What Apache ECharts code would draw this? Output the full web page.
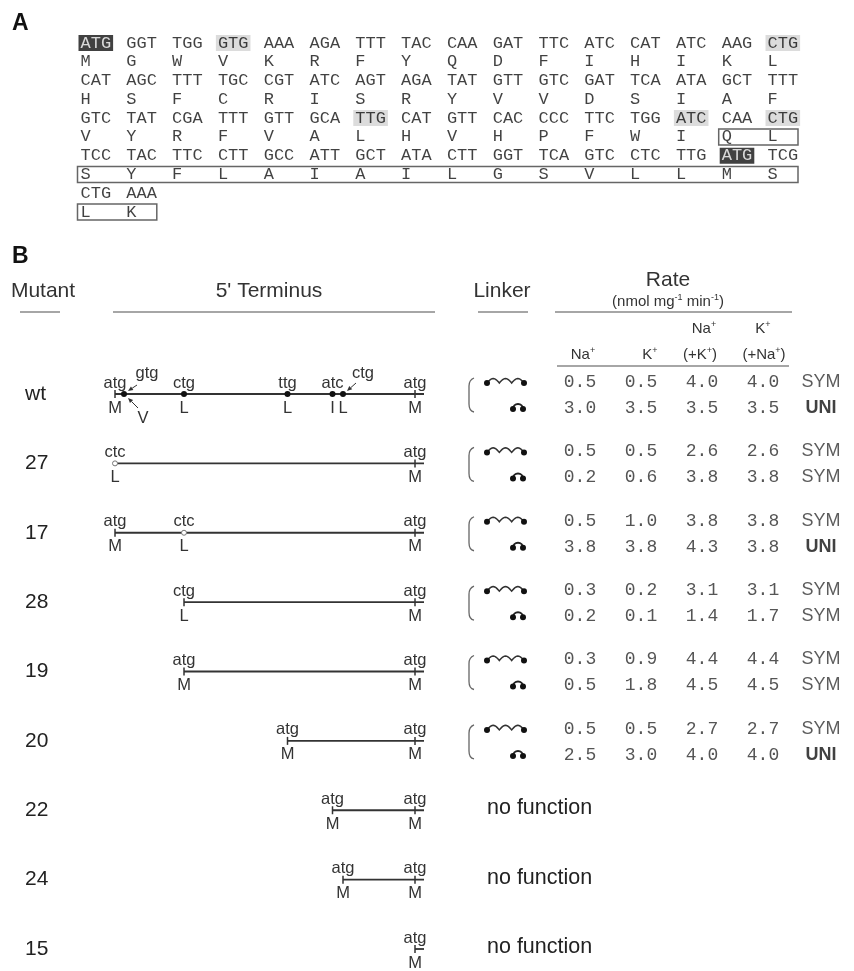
<!DOCTYPE html>
<html><head><meta charset="utf-8">
<script src="https://cdn.jsdelivr.net/npm/echarts@6.0.0/dist/echarts.min.js"></script>
<style>html,body{margin:0;padding:0;background:#fff}#c{width:854px;height:971px}</style>
</head><body><div id="c"></div>
<script>
// ================= Panel A data =================
const codonRows = [
  'ATG GGT TGG GTG AAA AGA TTT TAC CAA GAT TTC ATC CAT ATC AAG CTG',
  'CAT AGC TTT TGC CGT ATC AGT AGA TAT GTT GTC GAT TCA ATA GCT TTT',
  'GTC TAT CGA TTT GTT GCA TTG CAT GTT CAC CCC TTC TGG ATC CAA CTG',
  'TCC TAC TTC CTT GCC ATT GCT ATA CTT GGT TCA GTC CTC TTG ATG TCG',
  'CTG AAA'
];
const aaRows = ['MGWVKRFYQDFIHIKL', 'HSFCRISRYVVDSIAF', 'VYRFVALHVHPFWIQL', 'SYFLAIAILGSVLLMS', 'LK'];
const blackCodons = [[0, 0], [3, 14]];                 // [seqRow, col]
const grayCodons = [[0, 3], [0, 15], [2, 6], [2, 13], [2, 15]];
const boxedAA = [[2, 14, 15], [3, 0, 15], [4, 0, 1]];   // [seqRow, fromCol, toCol]

// ================= Panel B data =================
const mutants = ['wt', '27', '17', '28', '19', '20', '22', '24', '15'];
const lineEnd = 103;
const siteRow   = ['wt','wt','wt','wt','wt','wt','wt','27','27','17','17','17','28','28','19','19','20','20','22','22','24','24','15'];
const sitePos   = [0, 3, 23, 57.5, 72.5, 76, 100, 0, 100, 0, 23, 100, 23, 100, 23, 100, 57.5, 100, 72.5, 100, 76, 100, 100];
const siteCodon = ['atg','gtg','ctg','ttg','atc','ctg','atg','ctc','atg','atg','ctc','atg','ctg','atg','atg','atg','atg','atg','atg','atg','atg','atg','atg'];
const siteAA    = ['M','V','L','L','I','L','M','L','M','M','L','M','L','M','M','M','M','M','M','M','M','M','M'];
const siteMark  = ['tick','dot','dot','dot','dot','dot','tick','open','tick','tick','open','tick','tick','tick','tick','tick','tick','tick','tick','tick','tick','tick','tick'];

const rateMutants = ['wt', '27', '17', '28', '19', '20'];
// two rows per mutant: [long linker, short linker]
const rateNa   = [0.5, 3.0, 0.5, 0.2, 0.5, 3.8, 0.3, 0.2, 0.3, 0.5, 0.5, 2.5];
const rateK    = [0.5, 3.5, 0.5, 0.6, 1.0, 3.8, 0.2, 0.1, 0.9, 1.8, 0.5, 3.0];
const rateNaK  = [4.0, 3.5, 2.6, 3.8, 3.8, 4.3, 3.1, 1.4, 4.4, 4.5, 2.7, 4.0];
const rateKNa  = [4.0, 3.5, 2.6, 3.8, 3.8, 3.8, 3.1, 1.7, 4.4, 4.5, 2.7, 4.0];
const rateMode = ['SYM','UNI','SYM','SYM','SYM','UNI','SYM','SYM','SYM','SYM','SYM','UNI'];
const noFunction = ['22', '24', '15'];

// ================= build =================
const MONO = '"Liberation Mono", "Courier New", monospace';
const SANS = '"Liberation Sans", Arial, Helvetica, sans-serif';
const has = (arr, r, c) => arr.some(a => a[0] === r && a[1] === c);

const codonData = [];
codonRows.forEach((row, r) => row.split(' ').forEach((cd, c) => {
  const item = { name: cd, value: [c, 2 * r] };
  if (has(blackCodons, r, c)) item.label = { backgroundColor: '#111', color: '#fff' };
  else if (has(grayCodons, r, c)) item.label = { backgroundColor: '#d3d3d3' };
  codonData.push(item);
}));
const aaData = [];
aaRows.forEach((row, r) => row.split('').forEach((a, c) => aaData.push({ name: a, value: [c, 2 * r + 1] })));

const rateCols = [rateNa, rateK, rateNaK, rateKNa];
const rateData = [];
const modeData = [];
rateMutants.forEach((m, mi) => {
  const yi = mutants.indexOf(m);
  [0, 1].forEach(j => {
    const k = mi * 2 + j;
    const off = j === 0 ? -12 : 14;
    rateCols.forEach((col, ci) => rateData.push({ name: col[k].toFixed(1), value: [ci, yi], label: { offset: [0, off] } }));
    modeData.push({ name: rateMode[k], value: [4, yi], label: { offset: [-3, off], fontWeight: rateMode[k] === 'UNI' ? 'bold' : 'normal', color: rateMode[k] === 'UNI' ? '#111' : '#333' } });
  });
});

const lineData = mutants.map((m, i) => {
  const starts = sitePos.filter((p, s) => siteRow[s] === m);
  return [Math.min.apply(null, starts), lineEnd, i];
});
const siteData = sitePos.map((p, i) => [p, mutants.indexOf(siteRow[i]), i]);

// callout offsets (style) for crowded wt sites: [labelDx, labelDy, arrowFrom, arrowTo]
const codonCallout = { 1: [23, -21, [13, -9], [4, -3]], 5: [20, -21, [13, -11], [4, -3]] };
const aaCallout = { 1: [19, 24, [14, 14], [4, 4]] };

function txt(x, y, text, font, align, fill) {
  return { type: 'text', x: x, y: y, style: { text: text, font: font, fill: fill || '#333', align: align || 'center', verticalAlign: 'middle', textAlign: align || 'center', textVerticalAlign: 'middle' } };
}
function arrow(x1, y1, x2, y2) {
  const dx = x2 - x1, dy = y2 - y1, L = Math.hypot(dx, dy), ux = dx / L, uy = dy / L;
  const bx = x2 - ux * 5, by = y2 - uy * 5;
  return [
    { type: 'line', shape: { x1: x1, y1: y1, x2: bx, y2: by }, style: { stroke: '#333', lineWidth: 1 } },
    { type: 'polygon', shape: { points: [[x2, y2], [bx - uy * 2.2, by + ux * 2.2], [bx + uy * 2.2, by - ux * 2.2]] }, style: { fill: '#333' } }
  ];
}
function supText(x, y, text) {
  return { type: 'text', x: x, y: y, style: { text: text, font: '15px ' + SANS, fill: '#333', align: 'center', verticalAlign: 'middle', textAlign: 'center', textVerticalAlign: 'middle',
    rich: { s: { fontSize: 9, fontFamily: SANS, fill: '#333', padding: [0, 0, 9, 0] } } } };
}
function rule(x1, x2, y) {
  return { type: 'line', shape: { x1: x1, y1: y, x2: x2, y2: y }, style: { stroke: '#888', lineWidth: 1.5 } };
}

const LABEL_FONT = '16.5px ' + SANS;

const option = {
  animation: false,
  backgroundColor: '#fff',
  grid: [
    { left: 78, top: 43, width: 687, height: 169 },
    { left: 115, top: 394, width: 300, height: 555 },
    { left: 580, top: 394, width: 244, height: 555 }
  ],
  xAxis: [
    { gridIndex: 0, type: 'value', min: 0, max: 15, show: false },
    { gridIndex: 1, type: 'value', min: 0, max: 100, show: false },
    { gridIndex: 2, type: 'value', min: 0, max: 4, show: false }
  ],
  yAxis: [
    { gridIndex: 0, type: 'value', min: 0, max: 9, inverse: true, show: false },
    { gridIndex: 1, type: 'category', data: mutants, boundaryGap: false, inverse: true,
      axisLine: { show: false }, axisTick: { show: false }, splitLine: { show: false },
      axisLabel: { align: 'left', margin: 90, fontSize: 21, color: '#222', fontFamily: SANS } },
    { gridIndex: 2, type: 'category', data: mutants, boundaryGap: false, inverse: true, show: false }
  ],
  graphic: [
    txt(12, 24, 'A', 'bold 23px ' + SANS, 'left', '#111'),
    txt(12, 257, 'B', 'bold 23px ' + SANS, 'left', '#111'),
    txt(43, 291, 'Mutant', '21px ' + SANS),
    txt(269, 291, "5' Terminus", '21px ' + SANS),
    txt(502, 291, 'Linker', '21px ' + SANS),
    txt(668, 280, 'Rate', '21px ' + SANS),
    supText(668, 302, '(nmol mg{s|-1} min{s|-1})'),
    supText(583, 355, 'Na{s|+}'),
    supText(650, 355, 'K{s|+}'),
    supText(704, 329, 'Na{s|+}'),
    supText(700, 355, '(+K{s|+})'),
    supText(763, 329, 'K{s|+}'),
    supText(764, 355, '(+Na{s|+})'),
    rule(20, 60, 312),
    rule(113, 435, 312),
    rule(478, 528, 312),
    rule(555, 792, 312),
    rule(557, 789, 366)
  ],
  series: [
    // ---- Panel A: codons ----
    { type: 'scatter', xAxisIndex: 0, yAxisIndex: 0, silent: true, symbolSize: 1,
      itemStyle: { color: 'rgba(0,0,0,0)' },
      label: { show: true, position: 'right', distance: 0, formatter: '{b}', fontFamily: MONO, fontSize: 17, color: '#111', padding: [1, 2, 0, 2], lineHeight: 15 },
      data: codonData },
    // ---- Panel A: amino acids ----
    { type: 'scatter', xAxisIndex: 0, yAxisIndex: 0, silent: true, symbolSize: 1,
      itemStyle: { color: 'rgba(0,0,0,0)' },
      label: { show: true, position: 'right', distance: 0, formatter: '{b}', fontFamily: MONO, fontSize: 17, color: '#111', padding: [1, 2, 0, 2], lineHeight: 15 },
      data: aaData },
    // ---- Panel A: boxes ----
    { type: 'custom', xAxisIndex: 0, yAxisIndex: 0, silent: true,
      data: boxedAA.map(b => [b[1], b[2], 2 * b[0] + 1]),
      encode: { x: [0, 1], y: 2 },
      renderItem: function (params, api) {
        const a = api.coord([api.value(0), api.value(2)]);
        const b = api.coord([api.value(1), api.value(2)]);
        return { type: 'rect', shape: { x: a[0] - 0.5, y: a[1] - 8, width: b[0] + 33 - (a[0] - 0.5), height: 16 },
          style: { fill: 'none', stroke: '#666', lineWidth: 1.5 } };
      } },
    // ---- Panel B: fragment lines ----
    { type: 'custom', xAxisIndex: 1, yAxisIndex: 1, silent: true,
      data: lineData, encode: { x: [0, 1], y: 2 },
      renderItem: function (params, api) {
        const a = api.coord([api.value(0), api.value(2)]);
        const b = api.coord([api.value(1), api.value(2)]);
        return { type: 'line', shape: { x1: a[0], y1: a[1], x2: b[0], y2: b[1] }, style: { stroke: '#333', lineWidth: 1.8 } };
      } },
    // ---- Panel B: codon sites ----
    { type: 'custom', xAxisIndex: 1, yAxisIndex: 1, silent: true,
      data: siteData, encode: { x: 0, y: 1 },
      renderItem: function (params, api) {
        const i = api.value(2);
        const p = api.coord([api.value(0), api.value(1)]);
        const ch = [];
        const mk = siteMark[i];
        if (mk === 'tick') ch.push({ type: 'line', shape: { x1: p[0], y1: p[1] - 4, x2: p[0], y2: p[1] + 4 }, style: { stroke: '#333', lineWidth: 1.5 } });
        else if (mk === 'dot') ch.push({ type: 'circle', shape: { cx: p[0], cy: p[1], r: 3 }, style: { fill: '#111' } });
        else ch.push({ type: 'circle', shape: { cx: p[0], cy: p[1], r: 2.5 }, style: { fill: '#fff', stroke: '#777', lineWidth: 1 } });
        const cc = codonCallout[i];
        if (cc) {
          ch.push(txt(p[0] + cc[0], p[1] + cc[1], siteCodon[i], LABEL_FONT));
          arrow(p[0] + cc[2][0], p[1] + cc[2][1], p[0] + cc[3][0], p[1] + cc[3][1]).forEach(e => ch.push(e));
        } else {
          ch.push(txt(p[0], p[1] - 11, siteCodon[i], LABEL_FONT));
        }
        const ac = aaCallout[i];
        if (ac) {
          ch.push(txt(p[0] + ac[0], p[1] + ac[1], siteAA[i], LABEL_FONT));
          arrow(p[0] + ac[2][0], p[1] + ac[2][1], p[0] + ac[3][0], p[1] + ac[3][1]).forEach(e => ch.push(e));
        } else {
          ch.push(txt(p[0], p[1] + 14, siteAA[i], LABEL_FONT));
        }
        return { type: 'group', children: ch };
      } },
    // ---- Panel B: linker glyphs ----
    { type: 'custom', xAxisIndex: 2, yAxisIndex: 2, silent: true,
      data: rateMutants.map(m => [0, mutants.indexOf(m)]), encode: { x: 0, y: 1 },
      renderItem: function (params, api) {
        const p = api.coord([api.value(0), api.value(1)]);
        const y1 = p[1] - 12, y2 = p[1] + 14;
        const x0 = p[0] - 93, x1 = p[0] - 56;
        const pts = [];
        for (let t = 0; t <= 36; t++) pts.push([x0 + t * (x1 - x0) / 36, y1 + 1 - 4.5 * Math.abs(Math.sin(Math.PI * t / 12))]);
        const ax = p[0] - 62;
        const bx = p[0] - 110;
        return { type: 'group', children: [
          { type: 'path', shape: { pathData: 'M' + (bx + 4) + ' ' + (y1 - 4) + ' Q' + (bx - 1) + ' ' + (y1 - 2) + ' ' + (bx - 1) + ' ' + (y1 + 4) + ' L' + (bx - 1) + ' ' + (y2 - 4) + ' Q' + (bx - 1) + ' ' + (y2 + 3) + ' ' + (bx + 4) + ' ' + (y2 + 4) }, style: { fill: 'none', stroke: '#666', lineWidth: 1.3 } },
          { type: 'polyline', shape: { points: pts }, style: { stroke: '#333', lineWidth: 1.5, fill: 'none' } },
          { type: 'circle', shape: { cx: x0, cy: y1 + 1, r: 3 }, style: { fill: '#111' } },
          { type: 'circle', shape: { cx: x1, cy: y1 + 1, r: 3 }, style: { fill: '#111' } },
          { type: 'arc', shape: { cx: ax, cy: y2 + 1, r: 5, startAngle: Math.PI, endAngle: 2 * Math.PI, clockwise: true }, style: { stroke: '#222', lineWidth: 2, fill: 'none' } },
          { type: 'circle', shape: { cx: ax - 5, cy: y2 + 1, r: 3 }, style: { fill: '#111' } },
          { type: 'circle', shape: { cx: ax + 5, cy: y2 + 1, r: 3 }, style: { fill: '#111' } }
        ] };
      } },
    // ---- Panel B: rates ----
    { type: 'scatter', xAxisIndex: 2, yAxisIndex: 2, silent: true, symbolSize: 1,
      itemStyle: { color: 'rgba(0,0,0,0)' },
      label: { show: true, position: 'inside', formatter: '{b}', fontFamily: MONO, fontSize: 18, color: '#2a2a2a' },
      data: rateData },
    { type: 'scatter', xAxisIndex: 2, yAxisIndex: 2, silent: true, symbolSize: 1,
      itemStyle: { color: 'rgba(0,0,0,0)' },
      label: { show: true, position: 'inside', formatter: '{b}', fontFamily: SANS, fontSize: 18, color: '#333' },
      data: modeData },
    // ---- Panel B: no function ----
    { type: 'custom', xAxisIndex: 2, yAxisIndex: 2, silent: true,
      data: noFunction.map(m => [0, mutants.indexOf(m)]), encode: { x: 0, y: 1 },
      renderItem: function (params, api) {
        const p = api.coord([api.value(0), api.value(1)]);
        return txt(p[0] - 93, p[1] - 2, 'no function', '21.5px ' + SANS, 'left', '#222');
      } }
  ]
};
const chart = echarts.init(document.getElementById('c'), null, { renderer: 'canvas' });
chart.setOption(option);
</script>
</body></html>
